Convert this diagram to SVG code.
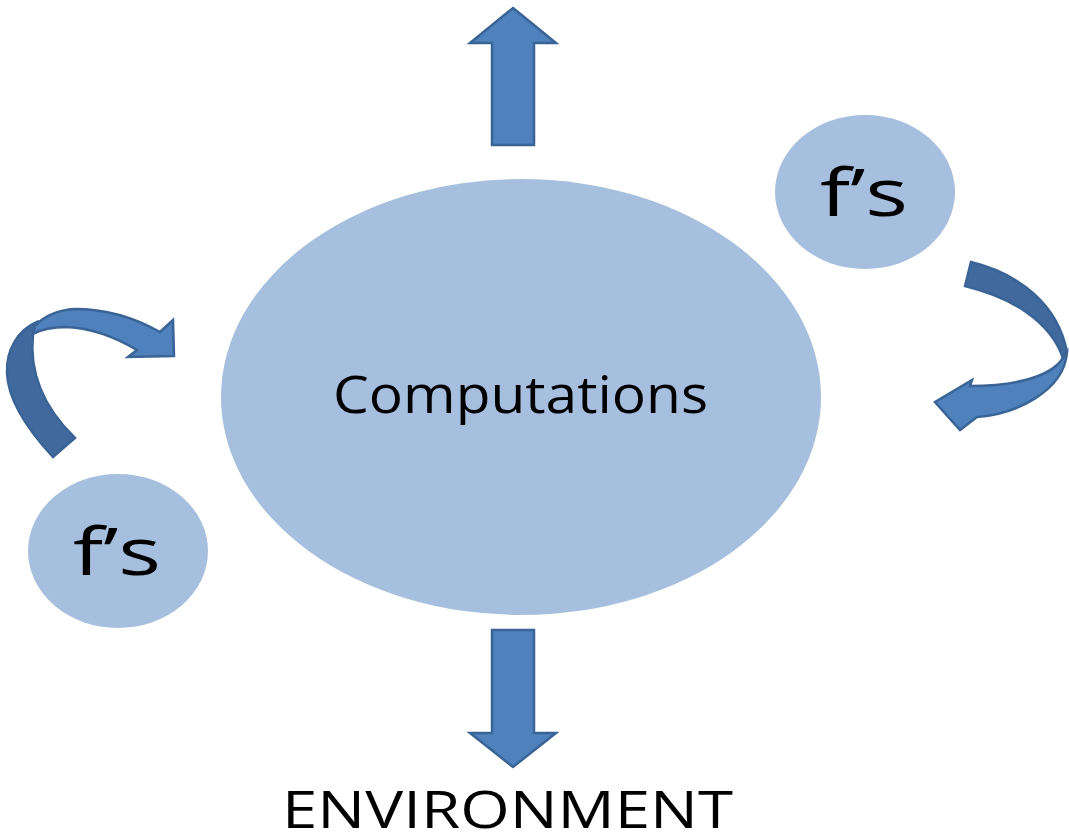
<svg xmlns="http://www.w3.org/2000/svg" width="1069" height="835" viewBox="0 0 1069 835">
<style>
.bub{fill:#a7bfde;}
.arr{fill:#4f81bd;stroke:#3a6396;stroke-width:2.5;stroke-linejoin:miter;}
.dark{fill:#41699e;stroke:#3a6396;stroke-width:2.5;}
.t{font-family:"Open Sans","Liberation Sans",sans-serif;fill:#000;}
</style>
<rect width="1069" height="835" fill="#fff"/>
<g id="connectors">
<g id="arrow-up"><path class="arr" d="M513,8 L556,43 L534,43 L534,145 L492,145 L492,43 L470,43 Z"/></g>
<g id="arrow-down"><path class="arr" d="M492,630 L534,630 L534,733 L556,733 L513,767 L470,733 L492,733 Z"/></g>
<g id="arrow-left-curve">
<path class="dark" d="M53,457 C28,430 8,400 7,373 C6,350 18,330 37,322 L33,334 C30,362 36,400 75,438 Z"/>
<path class="arr" d="M35,326 C45,315 58,310 75,309 C105,309 135,318 160,332 L173,320 L174,356 L128,357 L137,350 C115,337 90,328 67,327 C52,327 40,330 33,334 Z"/>
</g>
<g id="arrow-right-curve">
<path class="dark" d="M971,262 C1020,274 1058,305 1067,352 L1063,358 C1050,320 1010,297 965,286 Z"/>
<path class="arr" d="M1067,352 C1064,392 1015,414 977,417 L960,430 L935,402 L972,380 L970,386 C1012,386 1050,378 1063,358 Z"/>
</g>
</g>
<g id="node-computations">
<ellipse class="bub" cx="521" cy="397" rx="300" ry="218"/>
<text class="t" x="333" y="413" font-size="51" textLength="375" lengthAdjust="spacingAndGlyphs">Computations</text>
</g>
<g id="node-fs-right">
<ellipse class="bub" cx="865" cy="192" rx="90" ry="77"/>
<text class="t" x="820" y="216" font-size="66" textLength="88" lengthAdjust="spacingAndGlyphs">f’s</text>
</g>
<g id="node-fs-left">
<ellipse class="bub" cx="118" cy="551" rx="90" ry="77"/>
<text class="t" x="73" y="575" font-size="66" textLength="88" lengthAdjust="spacingAndGlyphs">f’s</text>
</g>
<g id="label-environment">
<text class="t" x="282" y="828" font-size="51" textLength="451" lengthAdjust="spacingAndGlyphs">ENVIRONMENT</text>
</g>
</svg>
